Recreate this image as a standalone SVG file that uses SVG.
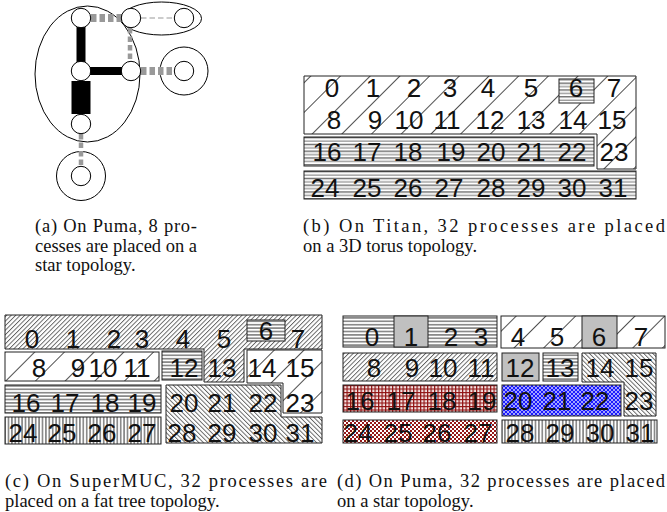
<svg xmlns="http://www.w3.org/2000/svg" width="667" height="512" viewBox="0 0 667 512">
<defs>
<style>
.r{stroke:#222;stroke-width:1}
.n{font-family:"Liberation Sans",Arial,sans-serif;font-size:26px;text-anchor:middle;fill:#111}
.cap{font-family:"Liberation Serif","Times New Roman",serif;font-size:18.5px;fill:#111}
.nd{fill:#fff;stroke:#000;stroke-width:1}
.grp{fill:none;stroke:#000;stroke-width:1}
.blk{stroke:#000;fill:none}
.gd{stroke:#999;fill:none;stroke-dasharray:5.5 3}
</style>
<pattern id="sp" patternUnits="userSpaceOnUse" width="21" height="10" patternTransform="rotate(45)"><rect width="21" height="10" fill="#fff"/><line x1="0.5" y1="0" x2="0.5" y2="10" stroke="#222" stroke-width="0.8"/></pattern>
<pattern id="dfw" patternUnits="userSpaceOnUse" width="3.2" height="10" patternTransform="rotate(45)"><rect width="3.2" height="10" fill="#fff"/><line x1="0.5" y1="0" x2="0.5" y2="10" stroke="#333" stroke-width="0.8"/></pattern>
<pattern id="dbk" patternUnits="userSpaceOnUse" width="3.2" height="10" patternTransform="rotate(-45)"><rect width="3.2" height="10" fill="#fff"/><line x1="0.5" y1="0" x2="0.5" y2="10" stroke="#333" stroke-width="0.8"/></pattern>
<pattern id="hl" patternUnits="userSpaceOnUse" width="10" height="3.4"><rect width="10" height="3.4" fill="#fff"/><line x1="0" y1="1.7" x2="10" y2="1.7" stroke="#222" stroke-width="0.9"/></pattern>
<pattern id="hl2" patternUnits="userSpaceOnUse" width="10" height="6.8"><rect width="10" height="6.8" fill="#fff"/><line x1="0" y1="1.7" x2="10" y2="1.7" stroke="#111" stroke-width="0.9"/><line x1="0" y1="5.1" x2="10" y2="5.1" stroke="#999" stroke-width="1.4"/></pattern>
<pattern id="vl" patternUnits="userSpaceOnUse" width="3.4" height="10"><rect width="3.4" height="10" fill="#fff"/><line x1="1.7" y1="0" x2="1.7" y2="10" stroke="#222" stroke-width="0.9"/></pattern>
<pattern id="rgrid" patternUnits="userSpaceOnUse" width="3.5" height="3.5"><rect width="3.5" height="3.5" fill="#f4e4e4"/><path d="M0,0.6H3.5M0.6,0V3.5" stroke="#8f1010" stroke-width="1.2"/></pattern>
<pattern id="rchk" patternUnits="userSpaceOnUse" width="4" height="4"><rect width="4" height="4" fill="#fff"/><rect width="2" height="2" fill="#951818"/><rect x="2" y="2" width="2" height="2" fill="#951818"/></pattern>
<pattern id="blu" patternUnits="userSpaceOnUse" width="4" height="4"><rect width="4" height="4" fill="#1a1aff"/><path d="M0,0L4,4M4,0L0,4" stroke="#fff" stroke-width="0.6"/></pattern>
</defs>

<!-- (a) star topology, 8 processes -->
<g id="a-groups">
<ellipse class="grp" cx="87.5" cy="74" rx="52.5" ry="68"/>
<ellipse class="grp" cx="161.5" cy="18.5" rx="40" ry="16.5"/>
<circle class="grp" cx="184" cy="71" r="24"/>
<circle class="grp" cx="81" cy="176" r="24.5"/>
</g>
<g id="a-connectors">
<line class="blk" x1="81" y1="27" x2="81" y2="62" stroke-width="9"/>
<line class="blk" x1="90" y1="71" x2="122" y2="71" stroke-width="8"/>
<line class="blk" x1="81" y1="81" x2="81" y2="114" stroke-width="19"/>
<line class="gd" x1="91" y1="18" x2="122" y2="18" stroke-width="8"/>
<line class="gd" x1="130" y1="28" x2="130" y2="62" stroke-width="4.5"/>
<line class="gd" x1="141" y1="71" x2="174" y2="71" stroke-width="8"/>
<line class="gd" x1="81" y1="134" x2="81" y2="166" stroke-width="4.5"/>
<line class="gd" x1="141" y1="18" x2="174" y2="18" stroke-width="1" stroke-dasharray="4 3"/>
</g>
<g id="a-n1"><circle class="nd" cx="81" cy="18" r="9.7"/></g>
<g id="a-n2"><circle class="nd" cx="131" cy="18" r="9.7"/></g>
<g id="a-n3"><circle class="nd" cx="184" cy="18" r="9.7"/></g>
<g id="a-n4"><circle class="nd" cx="81" cy="71" r="9.7"/></g>
<g id="a-n5"><circle class="nd" cx="131" cy="71" r="9.7"/></g>
<g id="a-n6"><circle class="nd" cx="184" cy="71" r="9.7"/></g>
<g id="a-n7"><circle class="nd" cx="81" cy="124" r="9.7"/></g>
<g id="a-n8"><circle class="nd" cx="81" cy="176" r="9.7"/></g>

<!-- (b) Titan -->
<g id="b-r0"><path class="r" fill="url(#sp)" d="M304,76H636V169H597V134H304Z"/></g>
<g id="b-c6"><rect class="r" fill="url(#hl2)" x="559" y="79" width="35" height="24"/></g>
<g id="b-r2"><rect class="r" fill="url(#hl2)" x="304" y="137" width="290" height="29"/></g>
<g id="b-r3"><rect class="r" fill="url(#hl2)" x="304" y="171" width="332" height="28"/></g>
<g id="b-text">
<text class="n" x="332" y="97">0</text><text class="n" x="373" y="97">1</text><text class="n" x="414" y="97">2</text><text class="n" x="450" y="97">3</text><text class="n" x="488" y="97">4</text><text class="n" x="531" y="97">5</text><text class="n" x="576" y="97">6</text><text class="n" x="614" y="97">7</text>
<text class="n" x="334" y="129">8</text><text class="n" x="375" y="129">9</text><text class="n" x="409" y="129">10</text><text class="n" x="447" y="129">11</text><text class="n" x="490" y="129">12</text><text class="n" x="531" y="129">13</text><text class="n" x="573" y="129">14</text><text class="n" x="612" y="129">15</text>
<text class="n" x="327" y="161">16</text><text class="n" x="367" y="161">17</text><text class="n" x="408" y="161">18</text><text class="n" x="451" y="161">19</text><text class="n" x="491" y="161">20</text><text class="n" x="531" y="161">21</text><text class="n" x="572" y="161">22</text><text class="n" x="614" y="161">23</text>
<text class="n" x="325" y="197">24</text><text class="n" x="367" y="197">25</text><text class="n" x="408" y="197">26</text><text class="n" x="449" y="197">27</text><text class="n" x="491" y="197">28</text><text class="n" x="531" y="197">29</text><text class="n" x="572" y="197">30</text><text class="n" x="613" y="197">31</text>
</g>

<!-- (c) SuperMUC -->
<g id="c-r0"><path class="r" fill="url(#dfw)" d="M5,315H322V349H244V382H204V349H5Z"/></g>
<g id="c-c6"><rect class="r" fill="url(#hl)" x="247" y="320" width="38" height="21"/></g>
<g id="c-r1"><rect class="r" fill="url(#sp)" x="5" y="352" width="154" height="29"/></g>
<g id="c-c12"><rect class="r" fill="url(#hl)" x="162" y="351" width="40" height="29"/></g>
<g id="c-r14"><path class="r" fill="url(#sp)" d="M247,350H322V413H283V383H247Z"/></g>
<g id="c-r2"><rect class="r" fill="url(#hl)" x="5" y="385" width="156" height="28"/></g>
<g id="c-r20"><path class="r" fill="url(#dbk)" d="M166,385H281V417H322V443H166Z"/></g>
<g id="c-r3"><rect class="r" fill="url(#vl)" x="5" y="417" width="156" height="27"/></g>
<g id="c-text">
<text class="n" x="32" y="348">0</text><text class="n" x="73" y="348">1</text><text class="n" x="114" y="348">2</text><text class="n" x="142" y="348">3</text><text class="n" x="183" y="348">4</text><text class="n" x="224" y="348">5</text><text class="n" x="266" y="340">6</text><text class="n" x="298" y="348">7</text>
<text class="n" x="39" y="377">8</text><text class="n" x="78" y="377">9</text><text class="n" x="103" y="377">10</text><text class="n" x="137" y="377">11</text><text class="n" x="184" y="377">12</text><text class="n" x="222" y="377">13</text><text class="n" x="262" y="377">14</text><text class="n" x="300" y="377">15</text>
<text class="n" x="26" y="412">16</text><text class="n" x="65" y="412">17</text><text class="n" x="105" y="412">18</text><text class="n" x="142" y="412">19</text><text class="n" x="184" y="412">20</text><text class="n" x="222" y="412">21</text><text class="n" x="263" y="412">22</text><text class="n" x="300" y="412">23</text>
<text class="n" x="23" y="442">24</text><text class="n" x="62" y="442">25</text><text class="n" x="102" y="442">26</text><text class="n" x="142" y="442">27</text><text class="n" x="182" y="442">28</text><text class="n" x="222" y="442">29</text><text class="n" x="263" y="442">30</text><text class="n" x="300" y="442">31</text>
</g>

<!-- (d) Puma 32 -->
<g id="d-r0a"><rect class="r" fill="url(#hl)" x="343" y="316" width="154" height="31"/></g>
<g id="d-c1"><rect class="r" fill="#c0c0c0" x="394" y="316" width="34" height="31"/></g>
<g id="d-r0b"><rect class="r" fill="url(#sp)" x="501" y="316" width="164" height="32"/></g>
<g id="d-c6"><rect class="r" fill="#c0c0c0" x="582" y="316" width="35" height="32"/></g>
<g id="d-r1"><rect class="r" fill="url(#dfw)" x="343" y="353" width="154" height="28"/></g>
<g id="d-c12"><rect class="r" fill="#c0c0c0" x="502" y="353" width="37" height="28"/></g>
<g id="d-c13"><rect class="r" fill="url(#hl)" x="543" y="353" width="35" height="28"/></g>
<g id="d-r14"><path class="r" fill="url(#dbk)" d="M582,353H656V416H624V382H582Z"/></g>
<g id="d-r2"><rect class="r" fill="url(#rgrid)" x="343" y="385" width="154" height="27"/></g>
<g id="d-r20"><rect class="r" fill="url(#blu)" x="502" y="385" width="119" height="31"/></g>
<g id="d-r3a"><rect class="r" fill="url(#rchk)" x="343" y="420" width="154" height="23"/></g>
<g id="d-r3b"><rect class="r" fill="url(#vl)" x="502" y="420" width="155" height="23"/></g>
<g id="d-text">
<text class="n" x="372" y="346">0</text><text class="n" x="411" y="346">1</text><text class="n" x="451" y="346">2</text><text class="n" x="481" y="346">3</text><text class="n" x="518" y="346">4</text><text class="n" x="557" y="346">5</text><text class="n" x="599" y="346">6</text><text class="n" x="641" y="346">7</text>
<text class="n" x="374" y="377">8</text><text class="n" x="412" y="377">9</text><text class="n" x="443" y="377">10</text><text class="n" x="481" y="377">11</text><text class="n" x="520" y="377">12</text><text class="n" x="560" y="377">13</text><text class="n" x="600" y="377">14</text><text class="n" x="639" y="377">15</text>
<text class="n" x="360" y="410">16</text><text class="n" x="401" y="410">17</text><text class="n" x="442" y="410">18</text><text class="n" x="482" y="410">19</text><text class="n" x="518" y="410">20</text><text class="n" x="557" y="410">21</text><text class="n" x="595" y="410">22</text><text class="n" x="639" y="410">23</text>
<text class="n" x="358" y="442">24</text><text class="n" x="398" y="442">25</text><text class="n" x="437" y="442">26</text><text class="n" x="478" y="442">27</text><text class="n" x="520" y="442">28</text><text class="n" x="560" y="442">29</text><text class="n" x="600" y="442">30</text><text class="n" x="640" y="442">31</text>
</g>

<!-- captions -->
<g id="captions">
<text class="cap" x="35" y="232" textLength="162" lengthAdjust="spacing">(a) On Puma, 8 pro-</text>
<text class="cap" x="35" y="251.5" textLength="162" lengthAdjust="spacing">cesses are placed on a</text>
<text class="cap" x="35" y="271">star topology.</text>
<text class="cap" x="303" y="232" textLength="362" lengthAdjust="spacing">(b) On Titan, 32 processes are placed</text>
<text class="cap" x="303" y="251.5">on a 3D torus topology.</text>
<text class="cap" x="5" y="487" textLength="322" lengthAdjust="spacing">(c) On SuperMUC, 32 processes are</text>
<text class="cap" x="5" y="506.5">placed on a fat tree topology.</text>
<text class="cap" x="337" y="487" textLength="328" lengthAdjust="spacing">(d) On Puma, 32 processes are placed</text>
<text class="cap" x="337" y="506.5">on a star topology.</text>
</g>
</svg>
